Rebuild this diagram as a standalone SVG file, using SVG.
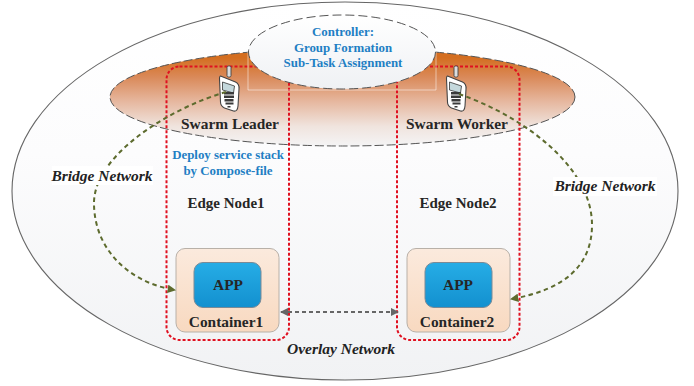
<svg xmlns="http://www.w3.org/2000/svg" width="694" height="386" viewBox="0 0 694 386">
<style>
text{font-family:"Liberation Serif","Times New Roman",serif;font-weight:bold;text-anchor:middle}
.dark{fill:#262626;font-size:15.400px}
.edge{fill:#262626;font-size:15px}
.blue{fill:#1f7fc4;font-size:12.900px}
.ital{fill:#222;font-size:15.500px;font-style:italic}
.group{fill:none;stroke:#e01020;stroke-width:2;stroke-dasharray:3 2}
.bridge{fill:none;stroke:#5d6b2e;stroke-width:2;stroke-dasharray:4.500 3.500}
.cont{fill:url(#contG);stroke:#b8b0a8;stroke-width:1}
.app{fill:url(#appG);stroke:#7a8a96;stroke-width:1}
.phoneBody{fill:#fff;stroke:#444;stroke-width:1.100}
</style>
<defs>
<linearGradient id="bgG" x1="0" y1="0" x2="0" y2="1"><stop offset="0" stop-color="#fff"/><stop offset="0.4" stop-color="#fcfcfd"/><stop offset="1" stop-color="#f1f2f4"/></linearGradient>
<linearGradient id="orG" x1="0" y1="0" x2="0" y2="1"><stop offset="0.1" stop-color="#d46e20"/><stop offset="0.3" stop-color="#da8a5a"/><stop offset="0.55" stop-color="#e6b8a0"/><stop offset="0.8" stop-color="#f0e4de"/><stop offset="1" stop-color="#f4f4f5"/></linearGradient>
<linearGradient id="ctlG" x1="0" y1="0" x2="0" y2="1"><stop offset="0" stop-color="#fff"/><stop offset="1" stop-color="#eff1f4"/></linearGradient>
<linearGradient id="contG" x1="0" y1="0" x2="0" y2="1"><stop offset="0" stop-color="#fbeadd"/><stop offset="1" stop-color="#f8d9c0"/></linearGradient>
<linearGradient id="appG" x1="0" y1="0" x2="0" y2="1"><stop offset="0" stop-color="#26ade6"/><stop offset="1" stop-color="#1390cf"/></linearGradient>
<marker id="ah" viewBox="0 0 8 8" refX="7" refY="4" markerWidth="4.200" markerHeight="4.200" orient="auto-start-reverse"><path d="M0 0L8 4L0 8Z" fill="#5d6b2e"/></marker>
<marker id="ag" viewBox="0 0 8 8" refX="7" refY="4" markerWidth="4.200" markerHeight="4.200" orient="auto-start-reverse"><path d="M0 0L8 4L0 8Z" fill="#666"/></marker>
<g id="phone">
<rect x="-2.500" y="-18" width="4" height="11" rx="1.500" fill="#ddd" stroke="#444" stroke-width="0.900"/>
<path class="phoneBody" d="M-9-8L6-2Q10 0 9.500 5L8.500 22Q8 28 4 27L-5 24Q-9 22-9 18L-10-5Q-10-8-9-8Z"/>
<path d="M-7-2L5 2L4 9L-7 6Z" fill="#c4d8dc" stroke="#333" stroke-width="0.800"/>
<g fill="#3a3a3a"><rect x="-5.500" y="8" width="10" height="2.500"/><rect x="-5.500" y="11.500" width="10" height="2.500"/><rect x="-5" y="15" width="9" height="2.500"/><rect x="-4" y="18.500" width="8" height="2"/><rect x="-2" y="22" width="3" height="1.500"/></g>
</g>
</defs>
<g id="overlay-network"><ellipse cx="345" cy="191" rx="333" ry="189" fill="url(#bgG)" stroke="#666" stroke-width="1.100"/></g>
<g id="swarm-plane"><ellipse cx="342.500" cy="97" rx="232.500" ry="49" fill="url(#orG)" stroke="#555" stroke-width="1" stroke-dasharray="9 3"/></g>
<g id="edge-node-1">
<rect class="group" x="166.500" y="66.500" width="122.500" height="273.500" rx="13"/>
<text class="edge" x="226" y="208">Edge Node1</text>
<text class="blue" x="228" y="159">Deploy service stack</text>
<text class="blue" x="228" y="175">by Compose-file</text>
</g>
<g id="edge-node-2">
<rect class="group" x="397" y="66.500" width="122.500" height="273.500" rx="13"/>
<text class="edge" x="458" y="208">Edge Node2</text>
</g>
<g id="controller">
<path d="M248 52V90H436V52" fill="none" stroke="#fff" stroke-opacity="0.5"/>
<ellipse cx="342" cy="52" rx="93.500" ry="37" fill="url(#ctlG)" stroke="#555" stroke-width="1" stroke-dasharray="9 4"/>
<text class="blue" x="343" y="36">Controller:</text>
<text class="blue" x="343" y="52">Group Formation</text>
<text class="blue" x="343" y="67">Sub-Task Assignment</text>
</g>
<g id="swarm-leader"><use href="#phone" transform="translate(229.500,84)"/><text class="dark" x="230" y="129">Swarm Leader</text></g>
<g id="swarm-worker"><use href="#phone" transform="translate(456.500,84)"/><text class="dark" x="457" y="129">Swarm Worker</text></g>
<g id="container-1">
<rect class="cont" x="176" y="248.500" width="103" height="83.500" rx="9"/>
<rect class="app" x="194" y="262.500" width="67" height="45" rx="9"/>
<text class="dark" x="228" y="290">APP</text>
<text class="dark" x="226" y="327">Container1</text>
</g>
<g id="container-2">
<rect class="cont" x="407" y="248.500" width="103" height="83.500" rx="9"/>
<rect class="app" x="425" y="262.500" width="67" height="45" rx="9"/>
<text class="dark" x="458" y="290">APP</text>
<text class="dark" x="457" y="327">Container2</text>
</g>
<g id="connectors">
<path class="bridge" marker-end="url(#ah)" d="M226 92C170 108 94 155 94 203C94 250 130 283 175 290"/>
<path class="bridge" marker-end="url(#ah)" d="M459 94C520 115 592 165 592 225C592 265 565 290 511 299"/>
<path d="M281 312H398" fill="none" stroke="#666" stroke-width="2" stroke-dasharray="4 3" marker-start="url(#ag)" marker-end="url(#ag)"/>
</g>
<g id="labels">
<rect x="52" y="166" width="101" height="19" fill="#fff"/>
<text class="ital" x="102" y="181">Bridge Network</text>
<rect x="553" y="177" width="104" height="19" fill="#fff"/>
<text class="ital" x="605" y="191">Bridge Network</text>
<text class="ital" x="341" y="354">Overlay Network</text>
</g>
</svg>
